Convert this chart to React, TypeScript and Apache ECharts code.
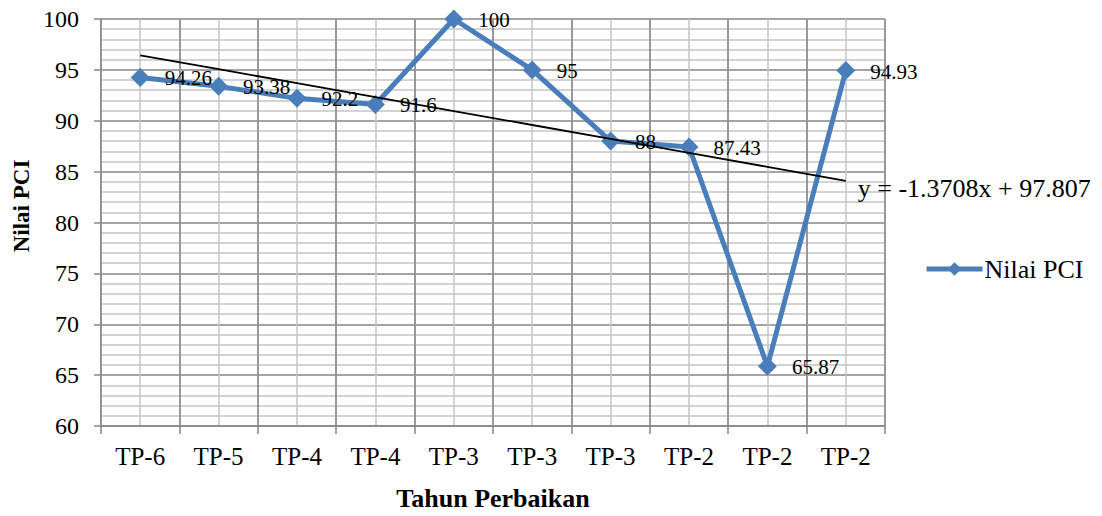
import React, { useEffect, useRef } from "react";
import * as echarts from "echarts";

const categories = ["TP-6", "TP-5", "TP-4", "TP-4", "TP-3", "TP-3", "TP-3", "TP-2", "TP-2", "TP-2"];
const pciValues = [94.26, 93.38, 92.2, 91.6, 100, 95, 88, 87.43, 65.87, 94.93];
const trendSlope = -1.3708;
const trendIntercept = 97.807;
const yTicks = { min: 60, max: 100, interval: 5 };

const FONT = "Liberation Serif";

export default function App() {
  const ref = useRef<HTMLDivElement>(null);
  useEffect(() => {
    if (!ref.current) return;
    const chart = echarts.init(ref.current, null, { renderer: "svg" });
    const trend = categories.map((_, i) => +(trendSlope * (i + 1) + trendIntercept).toFixed(3));
    const eq = `y = ${trendSlope}x + ${trendIntercept}`;
    chart.setOption({
      animation: false,
      backgroundColor: "#ffffff",
      textStyle: { fontFamily: FONT },
      grid: { left: 101, right: 217, top: 19, bottom: 84, containLabel: false },
      legend: {
        show: true,
        data: ["Nilai PCI"],
        left: 919,
        top: 251,
        itemWidth: 56,
        itemHeight: 17,
        itemGap: 4,
        lineStyle: { width: 5, color: "#4a7ebb" },
        itemStyle: { color: "#4a7ebb" },
        textStyle: { fontFamily: FONT, fontSize: 26, color: "#000", padding: [0, 0, 0, -3] },
      },
      graphic: [
        {
          type: "text",
          x: 21,
          y: 206,
          rotation: Math.PI / 2,
          style: {
            text: "Nilai PCI",
            fontFamily: FONT,
            fontSize: 23,
            fontWeight: "bold",
            fill: "#000",
            textAlign: "center",
            textVerticalAlign: "middle",
          },
        },
      ],
      xAxis: [
        {
          type: "category",
          data: categories,
          boundaryGap: true,
          name: "Tahun Perbaikan",
          nameLocation: "middle",
          nameGap: 59,
          nameTextStyle: { fontFamily: FONT, fontSize: 26, fontWeight: "bold", color: "#000" },
          axisLine: { show: true, lineStyle: { color: "#868686", width: 1.5 } },
          axisTick: { show: true, length: 8, alignWithLabel: false, lineStyle: { color: "#868686", width: 1.5 } },
          axisLabel: { fontFamily: FONT, fontSize: 25, color: "#000", margin: 18 },
          splitLine: { show: true, lineStyle: { color: "#868686", width: 1.5 } },
          z: 3,
        },
        {
          type: "value",
          min: 0,
          max: 10,
          interval: 0.5,
          show: true,
          position: "top",
          axisLine: { show: false },
          axisTick: { show: false },
          axisLabel: { show: false },
          splitLine: { show: true, lineStyle: { color: "#c4c4c4", width: 1.5 } },
          z: 1,
        },
      ],
      yAxis: {
        type: "value",
        min: yTicks.min,
        max: yTicks.max,
        interval: yTicks.interval,
        axisLine: { show: true, lineStyle: { color: "#868686", width: 1.5 } },
        axisTick: { show: true, length: 7, lineStyle: { color: "#868686", width: 1.5 } },
        axisLabel: { fontFamily: FONT, fontSize: 24, color: "#000", margin: 22 },
        splitLine: { show: true, lineStyle: { color: "#868686", width: 1.5 } },
        minorTick: { show: false, splitNumber: 5 },
        minorSplitLine: { show: true, lineStyle: { color: "#c4c4c4", width: 1.5 } },
      },
      series: [
        {
          name: "Nilai PCI",
          type: "line",
          data: pciValues,
          xAxisIndex: 0,
          symbol: "diamond",
          symbolSize: 19,
          lineStyle: { color: "#4a7ebb", width: 5 },
          itemStyle: { color: "#4a7ebb" },
          label: {
            show: true,
            position: "right",
            distance: 15,
            offset: [0, 1],
            fontFamily: FONT,
            fontSize: 21,
            color: "#000",
          },
          z: 3,
        },
        {
          name: "Trend",
          type: "line",
          data: trend,
          xAxisIndex: 0,
          symbol: "none",
          lineStyle: { color: "#000", width: 1.8 },
          label: { show: false },
          endLabel: {
            show: true,
            formatter: eq,
            fontFamily: FONT,
            fontSize: 26,
            color: "#000",
            distance: 12,
            offset: [0, 8],
          },
          z: 4,
        },
      ],
    });
    return () => chart.dispose();
  }, []);
  return <div ref={ref} style={{ width: 1102, height: 516, position: "absolute", left: 0, top: 0 }} />;
}
